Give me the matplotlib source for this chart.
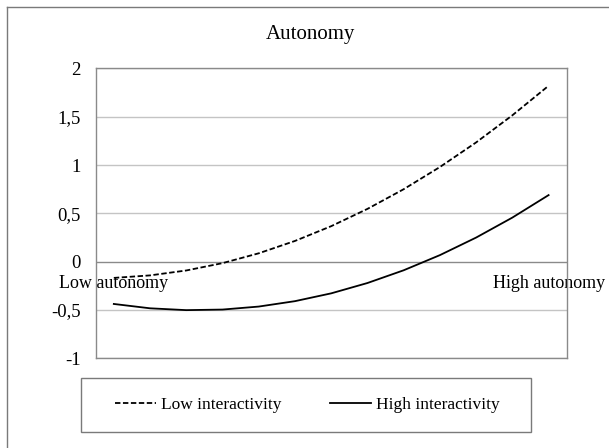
import matplotlib
matplotlib.use("Agg")
import matplotlib.pyplot as plt
from matplotlib.lines import Line2D
from matplotlib.patches import Rectangle

plt.rcParams["font.family"] = ["Liberation Serif", "DejaVu Serif"]

# 13 points along the autonomy axis, only the ends are labelled
categories = ["Low autonomy"] + [""] * 11 + ["High autonomy"]
low_inter = [-0.170, -0.144, -0.093, -0.017, 0.085, 0.213, 0.366,
             0.545, 0.749, 0.979, 1.234, 1.515, 1.821]
high_inter = [-0.440, -0.485, -0.504, -0.498, -0.467, -0.411, -0.330,
              -0.223, -0.091, 0.066, 0.248, 0.455, 0.688]
y_ticks = [-1, -0.5, 0, 0.5, 1, 1.5, 2]
y_ticklabels = ["-1", "-0,5", "0", "0,5", "1", "1,5", "2"]

W, H = 609, 448
fig = plt.figure(figsize=(W / 100, H / 100), dpi=100)

def fx(px):
    return px / W

def fy(py):
    return 1 - py / H

# outer chart frame (cut off on the right and bottom)
fig.add_artist(Line2D([fx(7), fx(7)], [fy(7), 0], color="#7a7a7a", lw=1.0))
fig.add_artist(Line2D([fx(7), 1], [fy(7), fy(7)], color="#7a7a7a", lw=1.0))

ax = fig.add_axes([fx(95.7), fy(358), fx(566.7) - fx(95.7), fy(68.5) - fy(358)])
x = list(range(len(categories)))
ax.plot(x, low_inter, color="black", lw=1.3, ls=(0, (3, 1.4)),
        label="Low interactivity")
ax.plot(x, high_inter, color="black", lw=1.3, label="High interactivity")

ax.set_xlim(-0.5, len(categories) - 0.5)
ax.set_ylim(-1, 2)
ax.set_yticks(y_ticks)
ax.set_yticklabels(y_ticklabels)
ax.tick_params(axis="y", length=0, pad=11, labelsize=13.5)
ax.set_xticks([])
for yv in y_ticks:
    if yv == 0:
        continue
    ax.axhline(yv, color="#c4c4c4", lw=1.0, zorder=0)
ax.axhline(0, color="#8a8a8a", lw=1.0, zorder=1)
for s in ax.spines.values():
    s.set_color("#8a8a8a")
    s.set_linewidth(1.0)

# category labels hang from the zero line
sec = ax.secondary_xaxis(1 / 3)
sec.set_xticks(x)
sec.set_xticklabels(categories)
sec.tick_params(length=0, pad=10, labelsize=13)
sec.spines["bottom"].set_visible(False)

ax.set_ylabel("Intrusiveness", fontsize=14.5)
ax.yaxis.label.set_transform(fig.transFigure)
ax.yaxis.label.set_position((fx(30.5), (fy(68.5) + fy(358)) / 2))

fig.text(fx(310.5), fy(39), "Autonomy", fontsize=15, ha="center", va="baseline")

# legend box
fig.add_artist(Rectangle((fx(81), fy(432)), fx(531) - fx(81), fy(378) - fy(432),
                         transform=fig.transFigure, fill=False,
                         edgecolor="#7a7a7a", lw=1.0))
fig.legend(loc="center", bbox_to_anchor=(fx(307), fy(405)), ncol=2,
           frameon=False, fontsize=12.5, handlelength=2.4, handletextpad=0.25,
           columnspacing=2.8)

fig.savefig("out.png", dpi=100)
